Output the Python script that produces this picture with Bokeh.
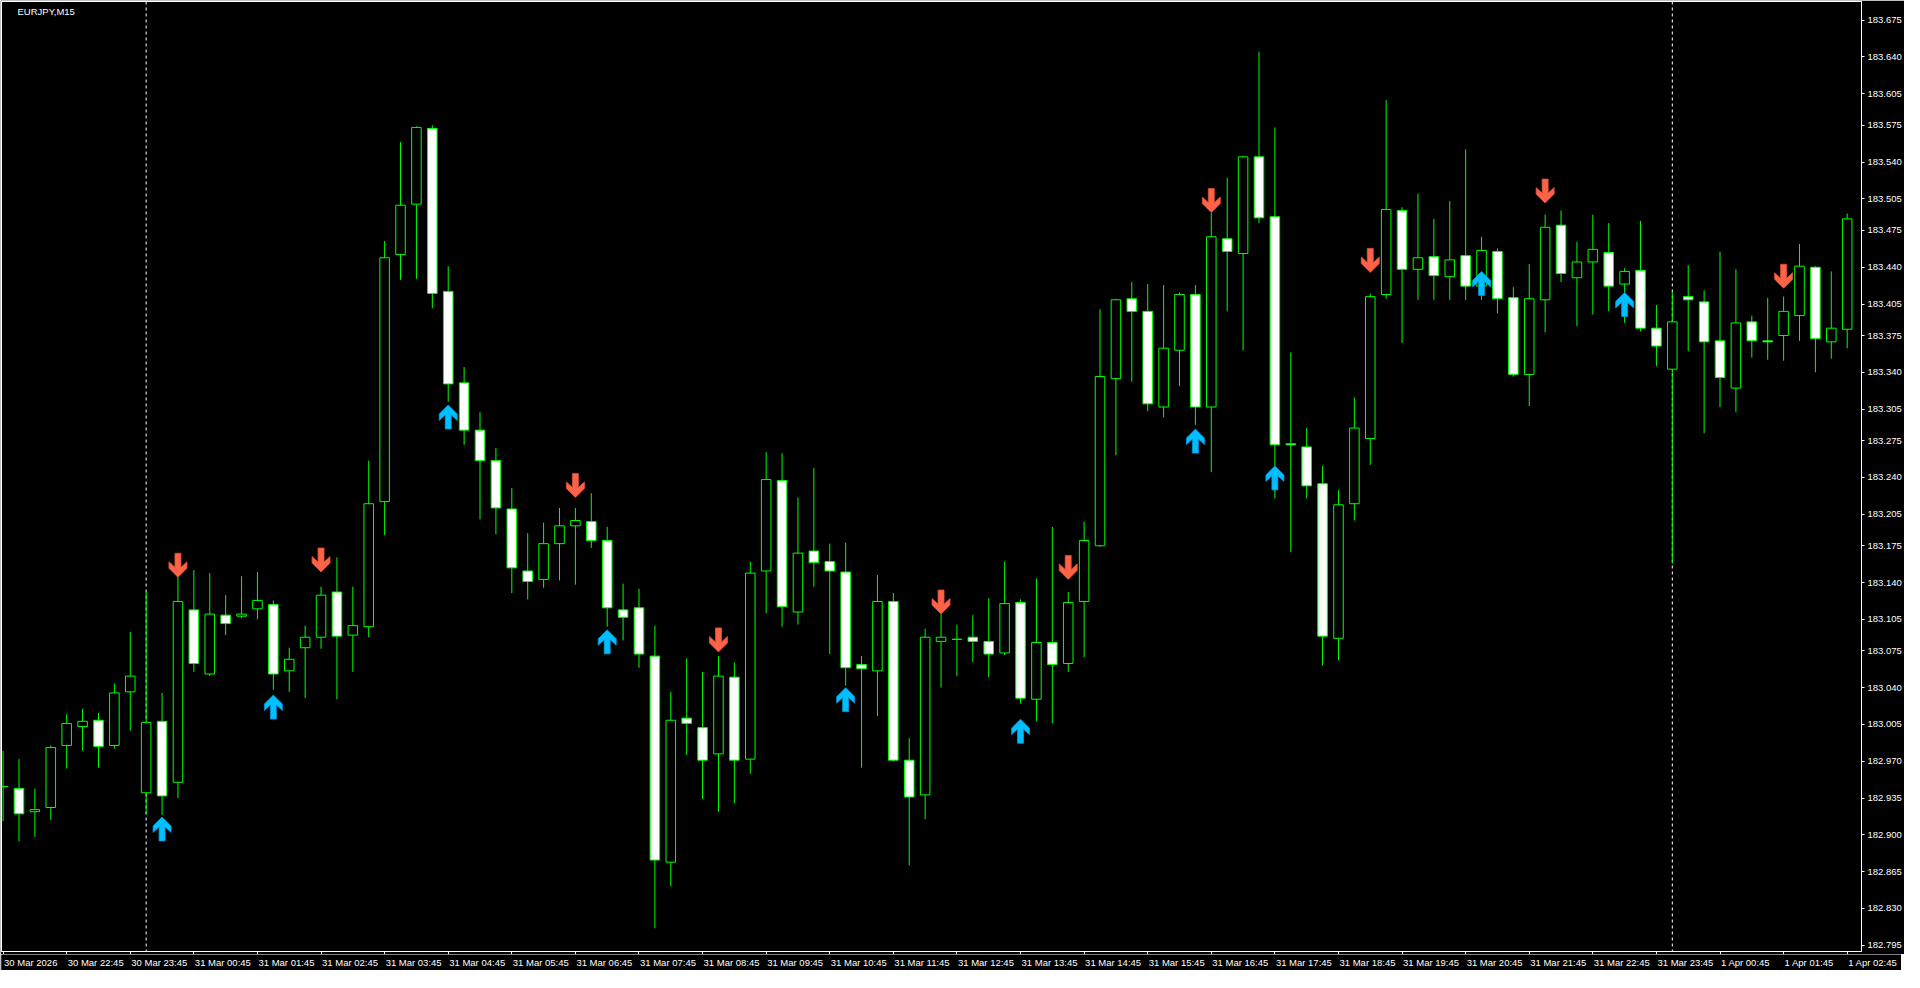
from bokeh.plotting import figure
from bokeh.layouts import column
from bokeh.models import ColumnDataSource, FixedTicker, Span, Label, Range1d, PrintfTickFormatter
from bokeh.core.properties import value
from bokeh.embed import file_html
from bokeh.resources import INLINE

# ---------------- data (EURJPY, M15) ----------------
symbol = "EURJPY,M15"

opens = [182.946, 182.944, 182.922, 182.926, 182.985, 183.003, 183.009, 182.985, 183.036, 182.940,
         183.008, 182.950, 183.114, 183.053, 183.109, 183.108, 183.115, 183.119, 183.056, 183.078,
         183.088, 183.131, 183.090, 183.098, 183.217, 183.452, 183.500, 183.572, 183.417, 183.330,
         183.285, 183.256, 183.210, 183.151, 183.143, 183.177, 183.194, 183.198, 183.180, 183.114,
         183.116, 183.070, 182.874, 183.011, 183.002, 182.977, 183.050, 182.972, 183.151, 183.237,
         183.112, 183.170, 183.160, 183.150, 183.062, 183.056, 183.122, 182.971, 182.938, 183.084,
         183.086, 183.088, 183.084, 183.073, 183.121, 183.029, 183.083, 183.063, 183.122, 183.175,
         183.334, 183.410, 183.398, 183.307, 183.361, 183.414, 183.307, 183.467, 183.453, 183.545,
         183.488, 183.272, 183.269, 183.234, 183.087, 183.215, 183.277, 183.414, 183.494, 183.438,
         183.450, 183.431, 183.451, 183.422, 183.455, 183.411, 183.338, 183.409, 183.480, 183.430,
         183.445, 183.454, 183.424, 183.437, 183.382, 183.343, 183.412, 183.407, 183.370, 183.325,
         183.388, 183.370, 183.375, 183.394, 183.440, 183.369, 183.381]
highs = [182.980, 182.972, 182.944, 182.985, 183.015, 183.020, 183.016, 183.044, 183.093, 183.132,
         183.035, 183.147, 183.152, 183.149, 183.128, 183.146, 183.150, 183.123, 183.078, 183.099,
         183.136, 183.164, 183.136, 183.256, 183.465, 183.559, 183.574, 183.575, 183.441, 183.345,
         183.302, 183.268, 183.230, 183.187, 183.197, 183.211, 183.211, 183.225, 183.193, 183.139,
         183.134, 183.099, 183.036, 183.068, 183.055, 183.070, 183.064, 183.160, 183.264, 183.263,
         183.221, 183.249, 183.177, 183.178, 183.070, 183.147, 183.130, 182.992, 183.096, 183.110,
         183.100, 183.109, 183.125, 183.160, 183.124, 183.144, 183.193, 183.131, 183.198, 183.400,
         183.410, 183.426, 183.424, 183.423, 183.416, 183.423, 183.492, 183.525, 183.546, 183.645,
         183.573, 183.359, 183.287, 183.251, 183.228, 183.316, 183.415, 183.599, 183.497, 183.510,
         183.486, 183.503, 183.552, 183.469, 183.458, 183.421, 183.443, 183.490, 183.494, 183.464,
         183.490, 183.482, 183.439, 183.484, 183.404, 183.417, 183.442, 183.418, 183.455, 183.438,
         183.394, 183.411, 183.412, 183.462, 183.441, 183.436, 183.491]
lows = [182.913, 182.894, 182.898, 182.914, 182.963, 182.980, 182.964, 182.982, 182.999, 182.920,
        182.919, 182.935, 183.055, 183.051, 183.090, 183.106, 183.105, 183.038, 183.036, 183.030,
        183.077, 183.029, 183.055, 183.088, 183.185, 183.428, 183.429, 183.401, 183.312, 183.271,
        183.200, 183.186, 183.130, 183.124, 183.135, 183.142, 183.138, 183.173, 183.098, 183.085,
        183.059, 182.811, 182.851, 182.976, 182.934, 182.922, 182.930, 182.958, 183.111, 183.098,
        183.100, 183.136, 183.072, 183.042, 182.964, 183.013, 182.970, 182.871, 182.915, 183.040,
        183.051, 183.064, 183.050, 183.071, 183.025, 183.008, 183.006, 183.055, 183.069, 183.174,
        183.261, 183.331, 183.303, 183.297, 183.327, 183.290, 183.245, 183.398, 183.361, 183.482,
        183.220, 183.169, 183.220, 183.061, 183.066, 183.199, 183.252, 183.410, 183.368, 183.409,
        183.409, 183.409, 183.409, 183.409, 183.396, 183.336, 183.308, 183.378, 183.426, 183.384,
        183.395, 183.398, 183.387, 183.379, 183.346, 183.158, 183.360, 183.282, 183.307, 183.302,
        183.354, 183.352, 183.351, 183.370, 183.340, 183.353, 183.363]
closes = [182.946, 182.920, 182.924, 182.983, 183.006, 183.008, 182.984, 183.035, 183.051, 183.007,
          182.937, 183.122, 183.063, 183.110, 183.101, 183.110, 183.123, 183.053, 183.067, 183.088,
          183.128, 183.089, 183.099, 183.215, 183.449, 183.499, 183.573, 183.415, 183.329, 183.285,
          183.256, 183.211, 183.154, 183.141, 183.177, 183.194, 183.199, 183.180, 183.116, 183.107,
          183.072, 182.876, 183.009, 183.006, 182.971, 183.051, 182.971, 183.149, 183.238, 183.117,
          183.168, 183.159, 183.151, 183.059, 183.058, 183.122, 182.971, 182.936, 183.088, 183.088,
          183.086, 183.084, 183.072, 183.120, 183.030, 183.083, 183.062, 183.121, 183.180, 183.336,
          183.409, 183.398, 183.310, 183.363, 183.414, 183.307, 183.469, 183.455, 183.545, 183.487,
          183.271, 183.271, 183.232, 183.089, 183.214, 183.287, 183.412, 183.495, 183.438, 183.449,
          183.432, 183.447, 183.422, 183.456, 183.410, 183.338, 183.410, 183.478, 183.434, 183.445,
          183.457, 183.422, 183.436, 183.382, 183.365, 183.388, 183.409, 183.369, 183.335, 183.387,
          183.370, 183.369, 183.398, 183.441, 183.372, 183.382, 183.486]

# signal arrows (bar index, arrow tip price)
down_bars = [11, 20, 36, 45, 59, 67, 76, 86, 97, 112]
down_prices = [183.145, 183.150, 183.221, 183.074, 183.110, 183.143, 183.492, 183.435, 183.501, 183.420]
up_bars = [10, 17, 28, 38, 53, 64, 75, 80, 93, 102]
up_prices = [182.917, 183.033, 183.309, 183.095, 183.040, 183.010, 183.286, 183.251, 183.436, 183.416]

# day separators (bars at 00:00)
sep_bars = [9, 105]

# time axis
tick_bars = list(range(0, 117, 4))
tick_labels = ["30 Mar 2026", "30 Mar 22:45", "30 Mar 23:45",
               "31 Mar 00:45", "31 Mar 01:45", "31 Mar 02:45", "31 Mar 03:45", "31 Mar 04:45",
               "31 Mar 05:45", "31 Mar 06:45", "31 Mar 07:45", "31 Mar 08:45", "31 Mar 09:45",
               "31 Mar 10:45", "31 Mar 11:45", "31 Mar 12:45", "31 Mar 13:45", "31 Mar 14:45",
               "31 Mar 15:45", "31 Mar 16:45", "31 Mar 17:45", "31 Mar 18:45", "31 Mar 19:45",
               "31 Mar 20:45", "31 Mar 21:45", "31 Mar 22:45", "31 Mar 23:45",
               "1 Apr 00:45", "1 Apr 01:45", "1 Apr 02:45"]

# price axis
price_ticks = [183.675, 183.640, 183.605, 183.575, 183.540, 183.505, 183.475, 183.440, 183.405,
               183.375, 183.340, 183.305, 183.275, 183.240, 183.205, 183.175, 183.140, 183.105,
               183.075, 183.040, 183.005, 182.970, 182.935, 182.900, 182.865, 182.830, 182.795]

# ---------------- styling ----------------
LIME = "#00FF00"
FONT = "Liberation Sans"
FS = "9.5px"
FW, FH = 1860, 950
X0, X1 = -0.1, 116.9
Y0, Y1 = 182.789, 183.6928
sx = FW / (X1 - X0)
sy = FH / (Y1 - Y0)
AXW = 40  # room on the right taken by the price axis

n = len(opens)
bars = list(range(n))
tops = [max(o, c) for o, c in zip(opens, closes)]
bots = [min(o, c) for o, c in zip(opens, closes)]
fills = ["white" if c < o else "black" for o, c in zip(opens, closes)]
src = ColumnDataSource(dict(x=bars, o=opens, h=highs, l=lows, c=closes,
                            top=tops, bottom=bots, fill=fills))

p = figure(frame_width=FW, frame_height=FH,
           x_range=Range1d(X0, X1), y_range=Range1d(Y0, Y1),
           y_axis_location="right", output_backend="svg", toolbar_location=None,
           background_fill_color="black", border_fill_color="black",
           min_border_left=1, min_border_top=1, min_border_right=0, min_border_bottom=0,
           outline_line_color="white", outline_line_width=1)
p.xgrid.visible = False
p.ygrid.visible = False

# separators
for b in sep_bars:
    p.add_layout(Span(location=b, dimension="height", line_color="white",
                      line_dash="3 3", line_width=1, level="underlay"))

# candles
p.segment(x0="x", y0="l", x1="x", y1="h", source=src, line_color=LIME, line_width=1)
p.vbar(x="x", width=0.6, top="top", bottom="bottom", source=src,
       fill_color="fill", line_color=LIME, line_width=1)

# arrows
up_shape = [(0, 0), (9, 9), (9, 15.5), (3, 10), (3, 24), (-3, 24), (-3, 10), (-9, 15.5), (-9, 9)]
uxs, uys, dxs, dys = [], [], [], []
for b, pr in zip(up_bars, up_prices):
    uxs.append([b + dx / sx for dx, dy in up_shape])
    uys.append([pr - dy / sy for dx, dy in up_shape])
for b, pr in zip(down_bars, down_prices):
    dxs.append([b + dx / sx for dx, dy in up_shape])
    dys.append([pr + dy / sy for dx, dy in up_shape])
p.patches(uxs, uys, fill_color="#00BFFF", line_color="#0096E0", line_width=0.8)
p.patches(dxs, dys, fill_color="#FF6347", line_color="#E0503A", line_width=0.8)

# x axis: tick marks only (labels drawn in the strip below, starting at each tick)
p.xaxis.ticker = FixedTicker(ticks=tick_bars)
p.xaxis.major_label_overrides = {b: "" for b in tick_bars}
p.xaxis.major_label_text_font_size = "0px"
p.xaxis.major_label_standoff = 0
p.xaxis.major_tick_out = 3
p.xaxis.major_tick_in = 0
p.xaxis.minor_tick_line_color = None
p.xaxis.axis_line_color = "white"
p.xaxis.major_tick_line_color = "white"

# y axis
p.yaxis.ticker = FixedTicker(ticks=price_ticks)
p.yaxis.formatter = PrintfTickFormatter(format="%.3f")
p.yaxis.major_label_text_color = "white"
p.yaxis.major_label_text_font = FONT
p.yaxis.major_label_text_font_size = FS
p.yaxis.major_label_standoff = 3
p.yaxis.major_tick_out = 3
p.yaxis.major_tick_in = 0
p.yaxis.minor_tick_line_color = None
p.yaxis.axis_line_color = "white"
p.yaxis.major_tick_line_color = "white"

# symbol caption
p.add_layout(Label(x=16, y=FH - 4, x_units="screen", y_units="screen", text=symbol,
                   text_align="left", text_baseline="top", text_color="white",
                   text_font=FONT, text_font_size=FS))

# time labels strip (same horizontal scale as the chart)
q = figure(frame_width=FW + AXW, frame_height=16,
           x_range=Range1d(X0, X1 + AXW / sx), y_range=Range1d(0, 1),
           x_axis_location=None, y_axis_location=None,
           output_backend="svg", toolbar_location=None,
           background_fill_color="black", border_fill_color="black",
           min_border_left=1, min_border_top=0, min_border_right=0, min_border_bottom=0,
           outline_line_color=None)
q.xgrid.visible = False
q.ygrid.visible = False
lab_src = ColumnDataSource(dict(x=tick_bars, y=[1] * len(tick_bars), text=tick_labels))
q.text(x="x", y="y", text="text", source=lab_src, x_offset=1, y_offset=2,
       text_align="left", text_baseline="top", text_color="white",
       text_font=value(FONT), text_font_size=value(FS))

layout = column(p, q, spacing=0)
open("out.html", "w").write(file_html(layout, INLINE))
